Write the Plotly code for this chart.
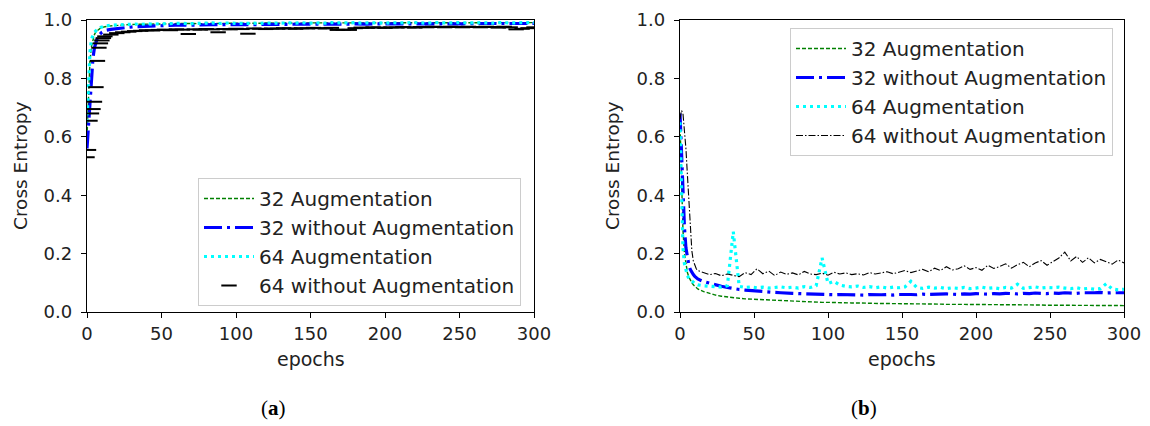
import plotly.graph_objects as go

# Training epochs sampled for every series
epochs = list(range(0, 13)) + list(range(16, 301, 4))

# (a) accuracy curves
acc_32_aug = [
    0.60, 0.76, 0.86, 0.91, 0.935, 0.95, 0.96, 0.965, 0.97, 0.972, 0.974, 0.976, 0.977,
    0.980, 0.982, 0.983, 0.984, 0.985, 0.985, 0.986, 0.986, 0.987, 0.986,
    0.987, 0.988, 0.987, 0.988, 0.988, 0.987, 0.989, 0.988, 0.989, 0.988,
    0.989, 0.988, 0.989, 0.989, 0.988, 0.989, 0.990, 0.989, 0.989, 0.990,
    0.989, 0.990, 0.989, 0.990, 0.990, 0.989, 0.990, 0.990, 0.989, 0.990,
    0.990, 0.989, 0.990, 0.990, 0.991, 0.990, 0.990, 0.991, 0.990, 0.990,
    0.991, 0.990, 0.991, 0.990, 0.991, 0.991, 0.990, 0.991, 0.991, 0.990,
    0.991, 0.991, 0.990, 0.991, 0.991, 0.990, 0.991, 0.991, 0.991, 0.990,
    0.991, 0.991,
]
acc_32_noaug = [
    0.56, 0.64, 0.74, 0.82, 0.87, 0.905, 0.925, 0.94, 0.948, 0.954, 0.958, 0.961, 0.964,
    0.968, 0.971, 0.974, 0.975, 0.977, 0.978, 0.979, 0.980, 0.981, 0.981,
    0.982, 0.982, 0.983, 0.982, 0.983, 0.984, 0.983, 0.984, 0.984, 0.983,
    0.984, 0.985, 0.984, 0.985, 0.984, 0.985, 0.985, 0.984, 0.985, 0.985,
    0.986, 0.985, 0.985, 0.986, 0.985, 0.986, 0.986, 0.985, 0.986, 0.986,
    0.986, 0.987, 0.986, 0.986, 0.987, 0.986, 0.987, 0.987, 0.986, 0.987,
    0.987, 0.986, 0.987, 0.987, 0.988, 0.987, 0.987, 0.988, 0.987, 0.987,
    0.988, 0.987, 0.988, 0.988, 0.987, 0.988, 0.988, 0.987, 0.988, 0.988,
    0.988, 0.988,
]
acc_64_aug = [
    0.65, 0.80, 0.89, 0.935, 0.95, 0.958, 0.963, 0.968, 0.971, 0.974, 0.976, 0.978, 0.979,
    0.982, 0.983, 0.985, 0.984, 0.986, 0.985, 0.987, 0.986, 0.987, 0.988,
    0.987, 0.988, 0.989, 0.987, 0.988, 0.989, 0.988, 0.990, 0.988, 0.989,
    0.990, 0.988, 0.989, 0.990, 0.989, 0.988, 0.990, 0.989, 0.990, 0.989,
    0.990, 0.989, 0.991, 0.989, 0.990, 0.990, 0.989, 0.991, 0.990, 0.989,
    0.990, 0.991, 0.989, 0.990, 0.991, 0.990, 0.989, 0.991, 0.990, 0.991,
    0.990, 0.991, 0.990, 0.989, 0.991, 0.990, 0.991, 0.990, 0.991, 0.990,
    0.991, 0.990, 0.991, 0.990, 0.989, 0.991, 0.990, 0.991, 0.990, 0.991,
    0.990, 0.991,
]
acc_64_noaug = [
    0.53, 0.555, 0.655, 0.68, 0.695, 0.72, 0.77, 0.86, 0.905, 0.92, 0.93, 0.938, 0.944,
    0.950, 0.955, 0.958, 0.960, 0.962, 0.963, 0.965, 0.964, 0.966, 0.967,
    0.965, 0.968, 0.967, 0.952, 0.968, 0.967, 0.969, 0.968, 0.958, 0.969,
    0.968, 0.970, 0.969, 0.953, 0.971, 0.970, 0.969, 0.971, 0.970, 0.972,
    0.971, 0.970, 0.972, 0.971, 0.973, 0.972, 0.971, 0.973, 0.966, 0.967,
    0.966, 0.972, 0.974, 0.973, 0.975, 0.974, 0.973, 0.975, 0.974, 0.976,
    0.975, 0.974, 0.976, 0.975, 0.977, 0.976, 0.975, 0.977, 0.976, 0.975,
    0.977, 0.976, 0.975, 0.977, 0.976, 0.974, 0.977, 0.975, 0.968, 0.970,
    0.972, 0.975,
]

# (b) cross-entropy loss curves
loss_32_aug = [
    0.65, 0.42, 0.28, 0.20, 0.16, 0.135, 0.12, 0.108, 0.10, 0.093, 0.088, 0.083, 0.079,
    0.070, 0.063, 0.058, 0.054, 0.051, 0.049, 0.047, 0.045, 0.044, 0.042,
    0.041, 0.040, 0.039, 0.038, 0.037, 0.036, 0.036, 0.035, 0.034, 0.034,
    0.033, 0.033, 0.032, 0.032, 0.031, 0.031, 0.031, 0.030, 0.030, 0.030,
    0.029, 0.029, 0.029, 0.028, 0.028, 0.028, 0.028, 0.027, 0.027, 0.027,
    0.027, 0.026, 0.027, 0.026, 0.026, 0.026, 0.025, 0.026, 0.025, 0.025,
    0.025, 0.025, 0.024, 0.025, 0.024, 0.024, 0.024, 0.024, 0.023, 0.024,
    0.023, 0.023, 0.023, 0.023, 0.022, 0.023, 0.022, 0.022, 0.022, 0.022,
    0.022, 0.022,
]
loss_32_noaug = [
    0.68, 0.55, 0.40, 0.29, 0.22, 0.18, 0.16, 0.145, 0.135, 0.128, 0.122, 0.117, 0.113,
    0.104, 0.098, 0.092, 0.088, 0.084, 0.080, 0.077, 0.075, 0.073, 0.071,
    0.070, 0.068, 0.067, 0.066, 0.066, 0.064, 0.063, 0.062, 0.062, 0.061,
    0.061, 0.060, 0.059, 0.060, 0.059, 0.058, 0.059, 0.058, 0.060, 0.059,
    0.059, 0.060, 0.058, 0.060, 0.061, 0.060, 0.059, 0.061, 0.060, 0.061,
    0.060, 0.062, 0.061, 0.060, 0.062, 0.061, 0.063, 0.062, 0.061, 0.063,
    0.062, 0.064, 0.063, 0.062, 0.064, 0.063, 0.065, 0.064, 0.063, 0.065,
    0.064, 0.066, 0.065, 0.064, 0.066, 0.065, 0.066, 0.067, 0.065, 0.066,
    0.067, 0.066,
]
loss_64_aug = [
    0.65, 0.36, 0.22, 0.165, 0.14, 0.125, 0.115, 0.11, 0.105, 0.10, 0.098, 0.095, 0.093,
    0.090, 0.088, 0.087, 0.085, 0.090, 0.275, 0.088, 0.084, 0.086, 0.083,
    0.085, 0.082, 0.084, 0.086, 0.083, 0.085, 0.082, 0.087, 0.084, 0.090,
    0.185, 0.098, 0.105, 0.092, 0.088, 0.086, 0.089, 0.084, 0.087, 0.083,
    0.086, 0.082, 0.085, 0.083, 0.086, 0.105, 0.084, 0.081, 0.085, 0.082,
    0.084, 0.080, 0.083, 0.081, 0.084, 0.080, 0.082, 0.085, 0.081, 0.083,
    0.080, 0.084, 0.082, 0.095, 0.081, 0.083, 0.086, 0.082, 0.084, 0.083,
    0.085, 0.082, 0.080, 0.083, 0.079, 0.081, 0.078, 0.080, 0.097, 0.079,
    0.076, 0.078,
]
loss_64_noaug = [
    0.66, 0.69, 0.68, 0.63, 0.56, 0.47, 0.37, 0.28, 0.21, 0.175, 0.158, 0.148, 0.142,
    0.135, 0.128, 0.132, 0.124, 0.130, 0.126, 0.121, 0.135, 0.128, 0.148,
    0.131, 0.140, 0.125, 0.137, 0.129, 0.134, 0.127, 0.139, 0.130, 0.128,
    0.133, 0.126, 0.136, 0.130, 0.134, 0.128, 0.131, 0.127, 0.135, 0.130,
    0.133, 0.138, 0.131, 0.136, 0.142, 0.135, 0.140, 0.146, 0.138, 0.150,
    0.142, 0.155, 0.144, 0.148, 0.158, 0.146, 0.152, 0.143, 0.160, 0.149,
    0.156, 0.165, 0.150, 0.162, 0.170, 0.155, 0.168, 0.176, 0.160, 0.172,
    0.185, 0.205, 0.175, 0.190, 0.170, 0.186, 0.168, 0.180, 0.172, 0.164,
    0.178, 0.168,
]

series_names = ["32 Augmentation", "32 without Augmentation",
                "64 Augmentation", "64 without Augmentation"]
x_ticks = [0, 50, 100, 150, 200, 250, 300]
y_ticks = [0.0, 0.2, 0.4, 0.6, 0.8, 1.0]

W, H = 1150, 426
FONT = "DejaVu Sans"
TXT = "#222222"

green = dict(color="#008000", width=1.4, dash="4px,2px")
blue = dict(color="#0000ff", width=3.2, dash="18px,5px,3px,5px")
cyan = dict(color="#00ffff", width=3.2, dash="3px,4px")
black_dd = dict(color="#000000", width=1.1, dash="7px,2px,1.5px,2px")

fig = go.Figure()

# panel (a)
fig.add_trace(go.Scatter(x=epochs, y=acc_32_aug, mode="lines", line=green,
                         name=series_names[0], xaxis="x", yaxis="y", legend="legend"))
fig.add_trace(go.Scatter(x=epochs, y=acc_32_noaug, mode="lines", line=blue,
                         name=series_names[1], xaxis="x", yaxis="y", legend="legend"))
fig.add_trace(go.Scatter(x=epochs, y=acc_64_aug, mode="lines", line=cyan,
                         name=series_names[2], xaxis="x", yaxis="y", legend="legend"))
fig.add_trace(go.Scatter(x=epochs, y=acc_64_noaug, mode="markers",
                         marker=dict(symbol="line-ew", size=11, color="black",
                                     line=dict(color="black", width=2)),
                         name=series_names[3], xaxis="x", yaxis="y", legend="legend"))

# panel (b)
fig.add_trace(go.Scatter(x=epochs, y=loss_32_aug, mode="lines", line=green,
                         name=series_names[0], xaxis="x2", yaxis="y2", legend="legend2"))
fig.add_trace(go.Scatter(x=epochs, y=loss_32_noaug, mode="lines", line=blue,
                         name=series_names[1], xaxis="x2", yaxis="y2", legend="legend2"))
fig.add_trace(go.Scatter(x=epochs, y=loss_64_aug, mode="lines", line=cyan,
                         name=series_names[2], xaxis="x2", yaxis="y2", legend="legend2"))
fig.add_trace(go.Scatter(x=epochs, y=loss_64_noaug, mode="lines", line=black_dd,
                         name=series_names[3], xaxis="x2", yaxis="y2", legend="legend2"))

def px_x(p):
    return p / W

def px_y(p):
    return 1 - p / H

axis_common = dict(showline=True, linecolor="black", linewidth=1.3, mirror=True,
                   ticks="outside", ticklen=5, tickwidth=1.3, tickcolor="black",
                   showgrid=False, zeroline=False, automargin=False,
                   tickfont=dict(family=FONT, size=18, color=TXT))

top, bottom = 20, 312
left_a, right_a = 87, 534
left_b, right_b = 680, 1124

legend_common = dict(xanchor="left", yanchor="top", itemwidth=50,
                     bgcolor="rgba(255,255,255,0.85)", bordercolor="#cccccc", borderwidth=1,
                     font=dict(family=FONT, size=20, color=TXT))

fig.update_layout(
    template="none",
    width=W, height=H,
    margin=dict(l=0, r=0, t=0, b=0, pad=0),
    paper_bgcolor="white", plot_bgcolor="white",
    font=dict(family=FONT, size=18, color=TXT),
    xaxis=dict(domain=[px_x(left_a), px_x(right_a)], range=[0, 300],
               tickvals=x_ticks, anchor="y", **axis_common),
    yaxis=dict(domain=[px_y(bottom), px_y(top)], range=[0, 1],
               tickvals=y_ticks, tickformat=".1f", anchor="x",
               ticklabelstandoff=5, **axis_common),
    xaxis2=dict(domain=[px_x(left_b), px_x(right_b)], range=[0, 300],
                tickvals=x_ticks, anchor="y2", **axis_common),
    yaxis2=dict(domain=[px_y(bottom), px_y(top)], range=[0, 1],
                tickvals=y_ticks, tickformat=".1f", anchor="x2",
                ticklabelstandoff=5, **axis_common),
    legend=dict(x=px_x(198), y=px_y(178), **legend_common),
    legend2=dict(x=px_x(790), y=px_y(28), **legend_common),
    showlegend=True,
)

def label(text, cx, cy, size=18, family=FONT, color=TXT, angle=0):
    return dict(text=text, x=px_x(cx), y=px_y(cy), xref="paper", yref="paper",
                xanchor="center", yanchor="middle", showarrow=False, textangle=angle,
                font=dict(family=family, size=size, color=color))

annotations = []
for cx in [(left_a + right_a) / 2, (left_b + right_b) / 2]:
    annotations.append(label("epochs", cx, 359, size=19))
for cx in [20, 612]:
    annotations.append(label("Cross Entropy", cx, (top + bottom) / 2, size=18.5, angle=-90))
annotations.append(label("(<b>a</b>)", 273, 408, size=21, family="Liberation Serif", color="black"))
annotations.append(label("(<b>b</b>)", 864, 408, size=21, family="Liberation Serif", color="black"))
fig.update_layout(annotations=annotations)

fig.write_html("out.html")
